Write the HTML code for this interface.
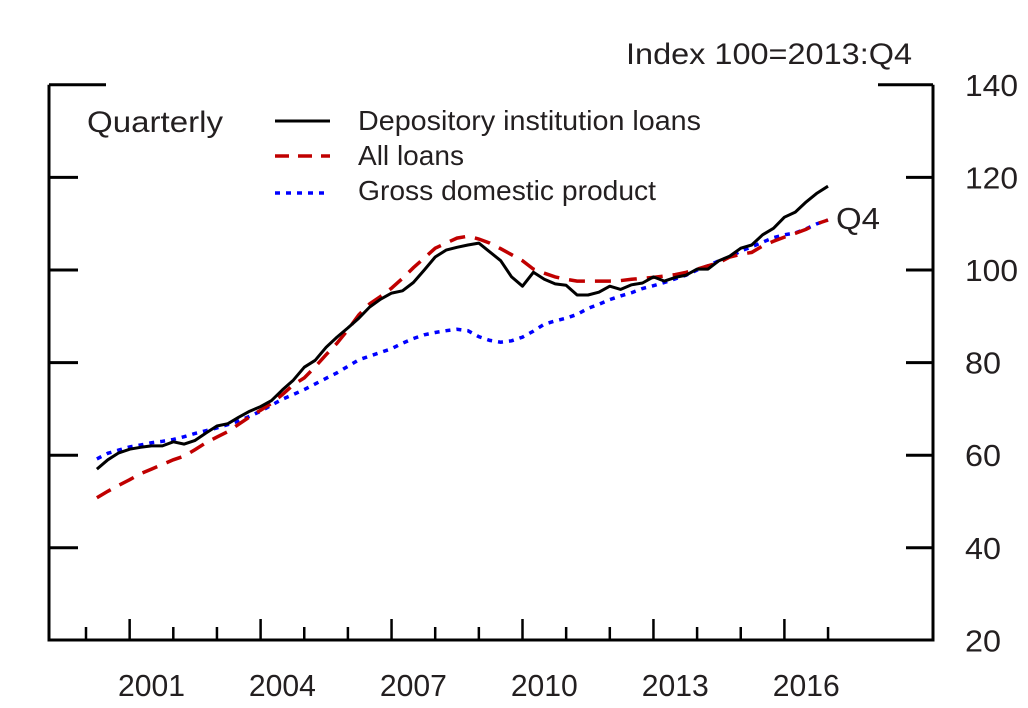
<!DOCTYPE html>
<html><head><meta charset="utf-8">
<style>
body{margin:0;background:#fff;}
svg{display:block;font-family:"Liberation Sans",sans-serif;fill:#231f20;}
</style></head>
<body>
<svg id="chart" width="1028" height="708" viewBox="0 0 1028 708" xmlns="http://www.w3.org/2000/svg">
<g id="axes"></g>
<g id="series"></g>
<text x="912" y="64" text-anchor="end" font-size="30" textLength="286" lengthAdjust="spacingAndGlyphs">Index 100=2013:Q4</text>
<text x="87" y="132" font-size="30" textLength="136" lengthAdjust="spacingAndGlyphs">Quarterly</text>
<g>
<line x1="275" y1="121" x2="330" y2="121" stroke="#000" stroke-width="3"/>
<text x="358" y="130" font-size="28" textLength="343" lengthAdjust="spacingAndGlyphs">Depository institution loans</text>
<line x1="275" y1="156" x2="330" y2="156" stroke="#c00000" stroke-width="3.5" stroke-dasharray="14,9"/>
<text x="358" y="165" font-size="28" textLength="106" lengthAdjust="spacingAndGlyphs">All loans</text>
<line x1="275" y1="193" x2="330" y2="193" stroke="#0000ff" stroke-width="3.5" stroke-dasharray="5,6"/>
<text x="358" y="200" font-size="28" textLength="298" lengthAdjust="spacingAndGlyphs">Gross domestic product</text>
</g>
<text x="836" y="229" font-size="31" textLength="44" lengthAdjust="spacingAndGlyphs">Q4</text>
</svg>
<script>
const yTicks=[20,40,60,80,100,120,140];
const yearLabels=[2001,2004,2007,2010,2013,2016];
const startQuarter=2000.25;
const depository=[57,59,60.5,61.3,61.7,62,62,62.9,62.4,63.2,64.8,66.3,66.8,68.2,69.5,70.5,71.8,74.1,76.2,79,80.5,83.3,85.5,87.5,89.6,92,93.7,95,95.5,97.3,100,102.8,104.3,104.9,105.4,105.8,103.9,102,98.5,96.5,99.5,98,97,96.7,94.6,94.6,95.2,96.5,95.8,96.8,97.2,98.5,97.6,98.4,98.9,100.2,100.2,102,103,104.7,105.4,107.6,109,111.4,112.5,114.7,116.6,118.1];
const allLoans=[50.8,52.2,53.5,54.7,56,57,58,59,59.8,61.2,62.7,63.9,65.1,66.7,68.3,69.7,71.2,73.1,75.2,76.7,79.1,81.7,84.2,87.1,90.3,92.7,94.3,96.1,98.2,100.5,102.6,104.7,105.8,106.9,107.3,106.7,105.8,104.6,103.3,102,100.2,99.3,98.5,98,97.6,97.6,97.6,97.6,97.7,98,98.2,98.4,98.7,99,99.5,100.2,100.9,101.6,102.8,103.4,103.8,105.2,106.2,107.1,107.9,108.8,110,110.8];
const gdp=[59.2,60.4,61.1,61.8,62.2,62.7,63,63.4,64,64.7,65.3,65.9,66.6,67.4,68.4,69.5,70.8,72.1,73.1,74.2,75.4,76.6,77.8,79.2,80.6,81.4,82.2,83,84.2,85.2,86,86.5,86.9,87.2,86.9,85.6,84.8,84.4,84.7,85.5,86.8,88.3,89,89.6,90.4,91.7,92.6,93.6,94.4,95.1,96,96.6,97.3,98.1,98.9,100,100.9,102,102.8,104.1,105,106,107,107.6,108,108.9,110,110.8];

const NS="http://www.w3.org/2000/svg";
const xS=t=>86+(t-2000)*43.65;
const yS=v=>270-(v-100)*4.63;
const L=49,R=933,B=640;
function mk(tag,attrs,parent){const e=document.createElementNS(NS,tag);for(const k in attrs)e.setAttribute(k,attrs[k]);parent.appendChild(e);return e;}
const ax=document.getElementById('axes');
let e;
e=mk('line',{x1:L,y1:yS(140),x2:L,y2:B,stroke:'#000','stroke-width':3},ax);


e=mk('line',{x1:R,y1:yS(140),x2:R,y2:B,stroke:'#000','stroke-width':3},ax);


e=mk('line',{x1:L-1.5,y1:B,x2:R+1.5,y2:B,stroke:'#000','stroke-width':3},ax);


yTicks.forEach(v=>{
  const y=yS(v);
  const top=v===140;
  if(v!==20){
  e=mk('line',{x1:L,y1:y,x2:L+(top?57:29),y2:y,stroke:'#000','stroke-width':3},ax);
  
  
  e=mk('line',{x1:R-(top?55:27),y1:y,x2:R,y2:y,stroke:'#000','stroke-width':3},ax);
  
  
  }
  e=mk('text',{x:965,y:y+11,'font-size':31,textLength:v>=100?53:36,lengthAdjust:'spacingAndGlyphs'},ax);
  e.textContent=v;
  
  
});
for(let yr=2000;yr<=2017;yr++){
  const x=xS(yr);const major=(yr-2001)%3===0;
  e=mk('line',{x1:x,y1:B,x2:x,y2:major?619:627,stroke:'#000','stroke-width':2.5},ax);
  
  
}
yearLabels.forEach(yr=>{
  e=mk('text',{x:xS(yr+0.5),y:696,'font-size':31,'text-anchor':'middle',textLength:67,lengthAdjust:'spacingAndGlyphs'},ax);
  e.textContent=yr;
  
  
});
const sg=document.getElementById('series');
function pts(arr){return arr.map((v,i)=>xS(startQuarter+i*0.25).toFixed(1)+','+yS(v).toFixed(1)).join(' ');}
e=mk('polyline',{points:pts(gdp),fill:'none',stroke:'#0000ff','stroke-width':3.5,'stroke-dasharray':'5,6'},sg);


e=mk('polyline',{points:pts(allLoans),fill:'none',stroke:'#c00000','stroke-width':3.5,'stroke-dasharray':'16,10'},sg);


e=mk('polyline',{points:pts(depository),fill:'none',stroke:'#000','stroke-width':3,'stroke-linejoin':'round'},sg);


</script>
</body></html>
